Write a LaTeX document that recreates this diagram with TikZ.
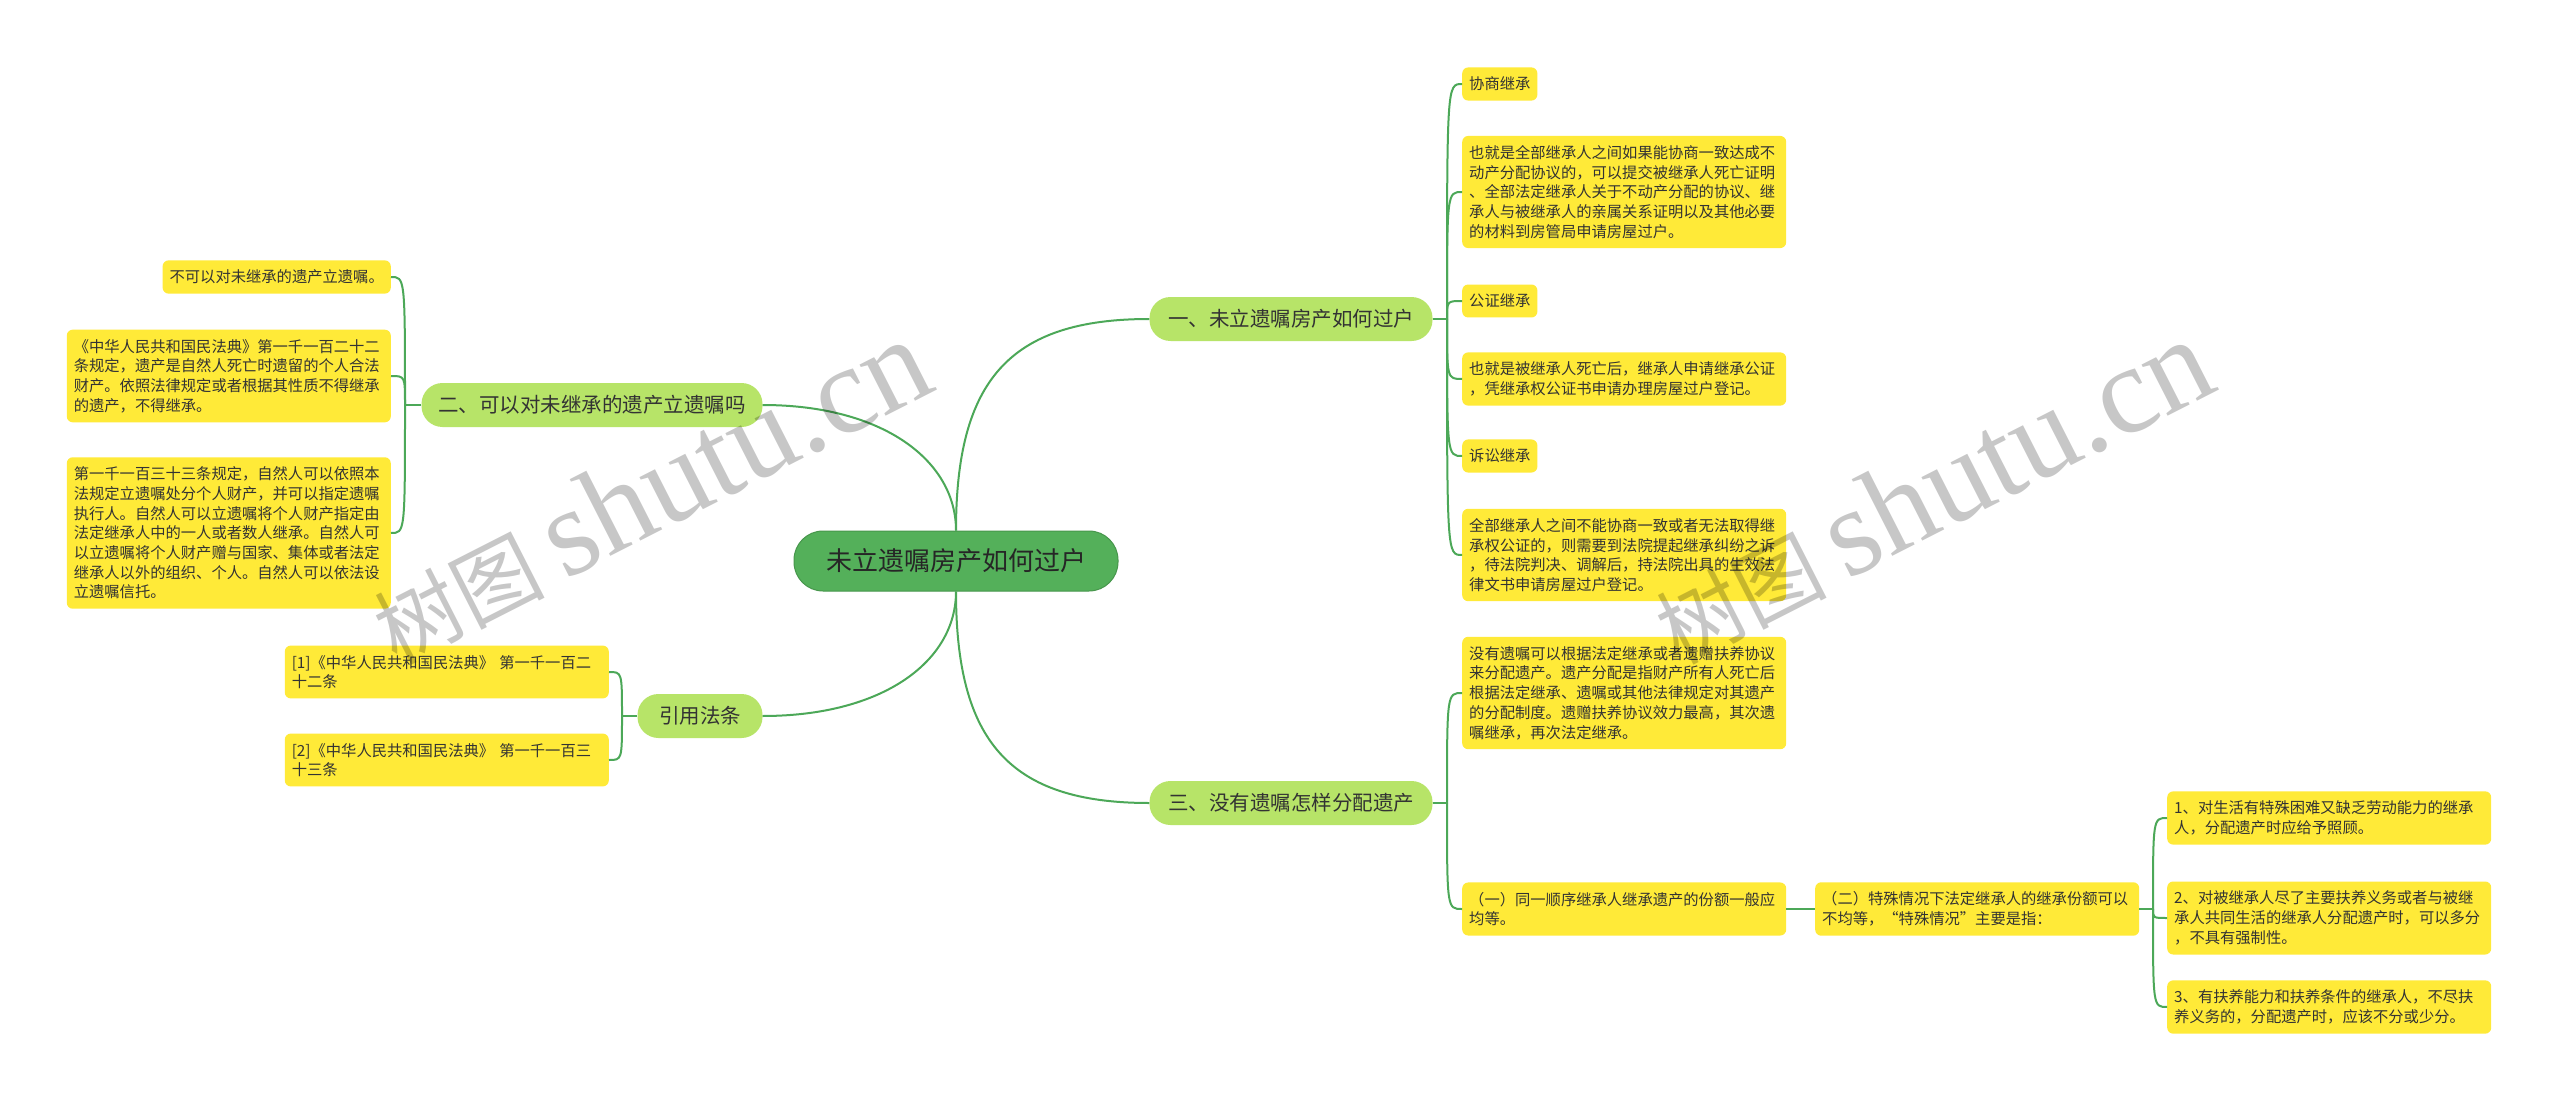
\documentclass[tikz,border=0pt]{standalone}
\usepackage{fontspec}
\setmainfont{Noto Sans CJK SC}
\newfontfamily\wmlatin{Liberation Serif}
\definecolor{linkgreen}{RGB}{76,168,88}
\definecolor{rootgreen}{RGB}{84,176,90}
\definecolor{branchgreen}{RGB}{183,228,104}
\definecolor{leafyellow}{RGB}{255,234,56}
\definecolor{inkgray}{RGB}{51,51,51}
\begin{document}
\begin{tikzpicture}[x=1pt,y=-1pt,
  link/.style={draw=linkgreen,line width=2pt},
  rootbox/.style={fill=rootgreen,draw=rootgreen!85!black,line width=1pt,rounded corners=29pt,
    minimum width=324pt,minimum height=60pt,font=\fontsize{26}{30}\selectfont,text=black!85},
  branchbox/.style={fill=branchgreen,rounded corners=21pt,minimum height=44pt,
    font=\fontsize{20.5}{24}\selectfont,text=inkgray},
  leafbox/.style={fill=leafyellow,rounded corners=6pt,inner xsep=7pt,inner ysep=9.5pt,
    align=left,font=\fontsize{15.3}{19.7}\selectfont,text=inkgray},
  wideleaf/.style={leafbox,text width=310pt},
  watermark/.style={rotate=27,text=black,opacity=0.22}]
  \fill[white] (0,0) rectangle (2560,1102);
  \useasboundingbox (0,0) rectangle (2560,1102);

  % centro
  \node[rootbox] (root) at (956,561) {未立遗嘱房产如何过户};

  % rami
  \node[branchbox,minimum width=283pt] (b1) at (1291,319) {一、未立遗嘱房产如何过户};
  \node[branchbox,minimum width=341pt] (b2) at (592,405) {二、可以对未继承的遗产立遗嘱吗};
  \node[branchbox,minimum width=283pt] (b3) at (1291,803) {三、没有遗嘱怎样分配遗产};
  \node[branchbox,minimum width=125pt] (b4) at (700,716) {引用法条};

  % foglie del primo ramo
  \node[leafbox,anchor=west] (l11) at (1462,84) {协商继承};
  \node[wideleaf,anchor=west] (l12) at (1462,192) {也就是全部继承人之间如果能协商一致达成不\\动产分配协议的，可以提交被继承人死亡证明\\、全部法定继承人关于不动产分配的协议、继\\承人与被继承人的亲属关系证明以及其他必要\\的材料到房管局申请房屋过户。};
  \node[leafbox,anchor=west] (l13) at (1462,301) {公证继承};
  \node[wideleaf,anchor=west] (l14) at (1462,379) {也就是被继承人死亡后，继承人申请继承公证\\，凭继承权公证书申请办理房屋过户登记。};
  \node[leafbox,anchor=west] (l15) at (1462,456) {诉讼继承};
  \node[wideleaf,anchor=west] (l16) at (1462,555) {全部继承人之间不能协商一致或者无法取得继\\承权公证的，则需要到法院提起继承纠纷之诉\\，待法院判决、调解后，持法院出具的生效法\\律文书申请房屋过户登记。};

  % foglie del terzo ramo
  \node[wideleaf,anchor=west] (l31) at (1462,693) {没有遗嘱可以根据法定继承或者遗赠扶养协议\\来分配遗产。遗产分配是指财产所有人死亡后\\根据法定继承、遗嘱或其他法律规定对其遗产\\的分配制度。遗赠扶养协议效力最高，其次遗\\嘱继承，再次法定继承。};
  \node[wideleaf,anchor=west] (l32) at (1462,909) {（一）同一顺序继承人继承遗产的份额一般应\\均等。};
  \node[wideleaf,anchor=west] (l33) at (1815,909) {（二）特殊情况下法定继承人的继承份额可以\\不均等，“特殊情况”主要是指：};
  \node[wideleaf,anchor=west] (l41) at (2167,818) {1、对生活有特殊困难又缺乏劳动能力的继承\\人，分配遗产时应给予照顾。};
  \node[wideleaf,anchor=west] (l42) at (2167,918) {2、对被继承人尽了主要扶养义务或者与被继\\承人共同生活的继承人分配遗产时，可以多分\\，不具有强制性。};
  \node[wideleaf,anchor=west] (l43) at (2167,1007) {3、有扶养能力和扶养条件的继承人，不尽扶\\养义务的，分配遗产时，应该不分或少分。};

  % foglie a sinistra
  \node[leafbox,anchor=east] (l21) at (391,277) {不可以对未继承的遗产立遗嘱。};
  \node[wideleaf,anchor=east] (l22) at (391,376) {《中华人民共和国民法典》第一千一百二十二\\条规定，遗产是自然人死亡时遗留的个人合法\\财产。依照法律规定或者根据其性质不得继承\\的遗产，不得继承。};
  \node[wideleaf,anchor=east] (l23) at (391,533) {第一千一百三十三条规定，自然人可以依照本\\法规定立遗嘱处分个人财产，并可以指定遗嘱\\执行人。自然人可以立遗嘱将个人财产指定由\\法定继承人中的一人或者数人继承。自然人可\\以立遗嘱将个人财产赠与国家、集体或者法定\\继承人以外的组织、个人。自然人可以依法设\\立遗嘱信托。};
  \node[wideleaf,anchor=east] (l41r) at (609,672) {[1]《中华人民共和国民法典》 第一千一百二\\十二条};
  \node[wideleaf,anchor=east] (l42r) at (609,760) {[2]《中华人民共和国民法典》 第一千一百三\\十三条};

  % collegamenti dal centro
  \draw[link] (root.north) .. controls +(0,-150) and +(-140,0) .. (b1.west);
  \draw[link] (root.north) .. controls +(0,-70) and +(120,0) .. (b2.east);
  \draw[link] (root.south) .. controls +(0,150) and +(-140,0) .. (b3.west);
  \draw[link] (root.south) .. controls +(0,70) and +(120,0) .. (b4.east);

  % primo ramo
  \coordinate (s1) at (1447,319);
  \draw[link] (b1.east) -- (s1);
  \draw[link] (s1) .. controls (s1 |- l11.west) .. (l11.west);
  \draw[link] (s1) .. controls (s1 |- l12.west) .. (l12.west);
  \draw[link] (s1) .. controls (s1 |- l13.west) .. (l13.west);
  \draw[link] (s1) .. controls (s1 |- l14.west) .. (l14.west);
  \draw[link] (s1) .. controls (s1 |- l15.west) .. (l15.west);
  \draw[link] (s1) .. controls (s1 |- l16.west) .. (l16.west);

  % terzo ramo
  \coordinate (s3) at (1447,803);
  \draw[link] (b3.east) -- (s3);
  \draw[link] (s3) .. controls (s3 |- l31.west) .. (l31.west);
  \draw[link] (s3) .. controls (s3 |- l32.west) .. (l32.west);
  \draw[link] (l32.east) -- (l33.west);
  \coordinate (s33) at (2153,909);
  \draw[link] (l33.east) -- (s33);
  \draw[link] (s33) .. controls (s33 |- l41.west) .. (l41.west);
  \draw[link] (s33) .. controls (s33 |- l42.west) .. (l42.west);
  \draw[link] (s33) .. controls (s33 |- l43.west) .. (l43.west);

  % secondo ramo
  \coordinate (s2) at (405,405);
  \draw[link] (b2.west) -- (s2);
  \draw[link] (s2) .. controls (s2 |- l21.east) .. (l21.east);
  \draw[link] (s2) .. controls (s2 |- l22.east) .. (l22.east);
  \draw[link] (s2) .. controls (s2 |- l23.east) .. (l23.east);

  % riferimenti
  \coordinate (s4) at (622,716);
  \draw[link] (b4.west) -- (s4);
  \draw[link] (s4) .. controls (s4 |- l41r.east) .. (l41r.east);
  \draw[link] (s4) .. controls (s4 |- l42r.east) .. (l42r.east);

  % filigrana
  \node[watermark] (wm1) at (650,492) {\fontsize{85}{85}\selectfont 树图 {\wmlatin\fontsize{125}{125}\selectfont shutu.cn}};
  \node[watermark] (wm2) at (1932,492) {\fontsize{85}{85}\selectfont 树图 {\wmlatin\fontsize{125}{125}\selectfont shutu.cn}};
\end{tikzpicture}
\end{document}
